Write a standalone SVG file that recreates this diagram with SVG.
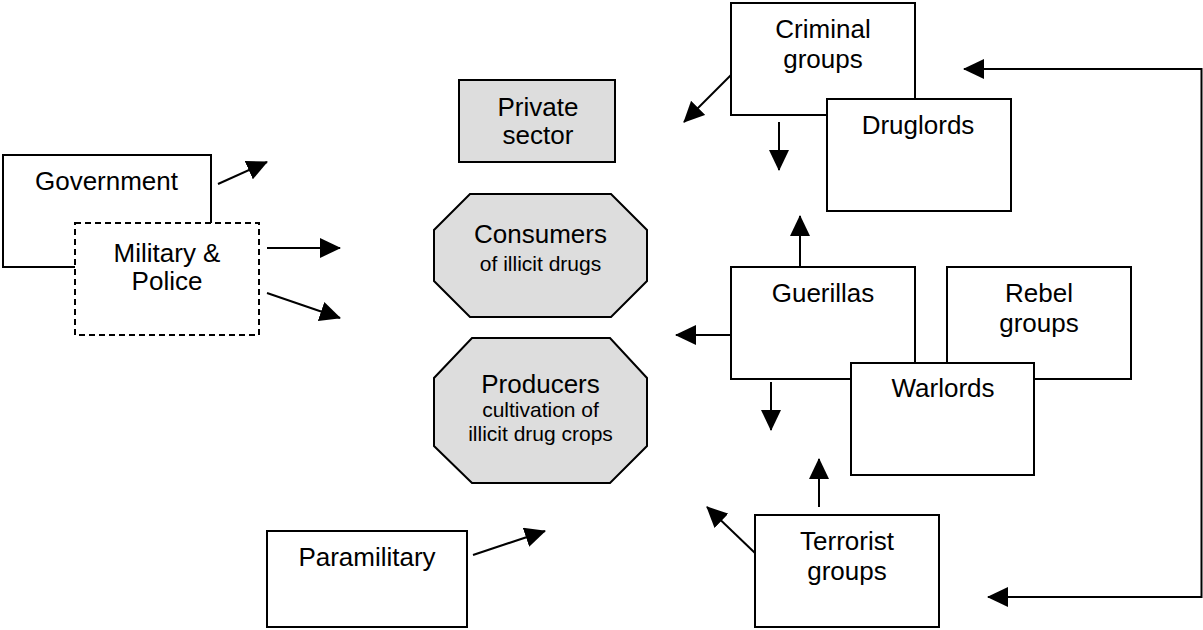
<svg xmlns="http://www.w3.org/2000/svg" width="1203" height="630" viewBox="0 0 1203 630">
<style>
.box{fill:#ffffff;stroke:#000000;stroke-width:2}
.dash{fill:#ffffff;stroke:#000000;stroke-width:2;stroke-dasharray:6 4}
.gray{fill:#dddddd;stroke:#000000;stroke-width:2}
.t{font-family:"Liberation Sans",Arial,sans-serif;font-size:26px;fill:#000000;text-anchor:middle}
.s{font-family:"Liberation Sans",Arial,sans-serif;font-size:21px;fill:#000000;text-anchor:middle}
.c{fill:none;stroke:#000000;stroke-width:2}
</style>
<defs>
<marker id="ah" markerUnits="userSpaceOnUse" markerWidth="22" markerHeight="20" refX="20" refY="10" orient="auto">
<path d="M0,0 L21,10 L0,20 Z" fill="#000000"/>
</marker>
<marker id="ahs" markerUnits="userSpaceOnUse" markerWidth="22" markerHeight="20" refX="20" refY="10" orient="auto-start-reverse">
<path d="M0,0 L21,10 L0,20 Z" fill="#000000"/>
</marker>
</defs>
<rect width="1203" height="630" fill="#ffffff"/>
<g id="government">
<rect class="box" x="3" y="155" width="208" height="112"/>
<text class="t" x="106.5" y="190">Government</text>
</g>
<g id="military-police">
<rect class="dash" x="75" y="223" width="184" height="112"/>
<text class="t" x="167" y="262">Military &amp;</text>
<text class="t" x="167" y="290">Police</text>
</g>
<g id="private-sector">
<rect class="gray" x="459" y="80" width="156" height="82"/>
<text class="t" x="538" y="116">Private</text>
<text class="t" x="538" y="144">sector</text>
</g>
<g id="consumers">
<polygon class="gray" points="470,194 611,194 647,230 647,281 611,317 470,317 434,281 434,230"/>
<text class="t" x="540.5" y="243">Consumers</text>
<text class="s" x="540.5" y="271">of illicit drugs</text>
</g>
<g id="producers">
<polygon class="gray" points="472,338 610,338 647,378 647,446 610,483 472,483 434,446 434,378"/>
<text class="t" x="540.5" y="393">Producers</text>
<text class="s" x="540.5" y="417">cultivation of</text>
<text class="s" x="540.5" y="441">illicit drug crops</text>
</g>
<g id="criminal-groups">
<rect class="box" x="731" y="3" width="184" height="112"/>
<text class="t" x="823" y="38">Criminal</text>
<text class="t" x="823" y="68">groups</text>
</g>
<g id="druglords">
<rect class="box" x="827" y="99" width="184" height="112"/>
<text class="t" x="918" y="134">Druglords</text>
</g>
<g id="guerillas">
<rect class="box" x="731" y="267" width="184" height="112"/>
<text class="t" x="823" y="302">Guerillas</text>
</g>
<g id="rebel-groups">
<rect class="box" x="947" y="267" width="184" height="112"/>
<text class="t" x="1039" y="302">Rebel</text>
<text class="t" x="1039" y="332">groups</text>
</g>
<g id="warlords">
<rect class="box" x="851" y="363" width="183" height="112"/>
<text class="t" x="943" y="397">Warlords</text>
</g>
<g id="paramilitary">
<rect class="box" x="267" y="531" width="200" height="96"/>
<text class="t" x="367" y="566">Paramilitary</text>
</g>
<g id="terrorist-groups">
<rect class="box" x="755" y="515" width="184" height="112"/>
<text class="t" x="847" y="550">Terrorist</text>
<text class="t" x="847" y="580">groups</text>
</g>
<g id="connectors">
<line class="c" x1="218" y1="184" x2="267" y2="162" marker-end="url(#ah)"/>
<line class="c" x1="267" y1="248" x2="340" y2="248" marker-end="url(#ah)"/>
<line class="c" x1="267" y1="293" x2="340" y2="318" marker-end="url(#ah)"/>
<line class="c" x1="731" y1="75" x2="684" y2="122" marker-end="url(#ah)"/>
<line class="c" x1="779" y1="122" x2="779" y2="170" marker-end="url(#ah)"/>
<line class="c" x1="800" y1="266" x2="800" y2="216" marker-end="url(#ah)"/>
<line class="c" x1="731" y1="335" x2="676" y2="335" marker-end="url(#ah)"/>
<line class="c" x1="771" y1="382" x2="771" y2="430" marker-end="url(#ah)"/>
<line class="c" x1="819" y1="507" x2="819" y2="459" marker-end="url(#ah)"/>
<line class="c" x1="755" y1="553" x2="707" y2="507" marker-end="url(#ah)"/>
<line class="c" x1="473" y1="555" x2="545" y2="531" marker-end="url(#ah)"/>
<polyline class="c" points="964,69 1201.5,69 1201.5,597 988,597" marker-start="url(#ahs)" marker-end="url(#ah)"/>
</g>
</svg>
